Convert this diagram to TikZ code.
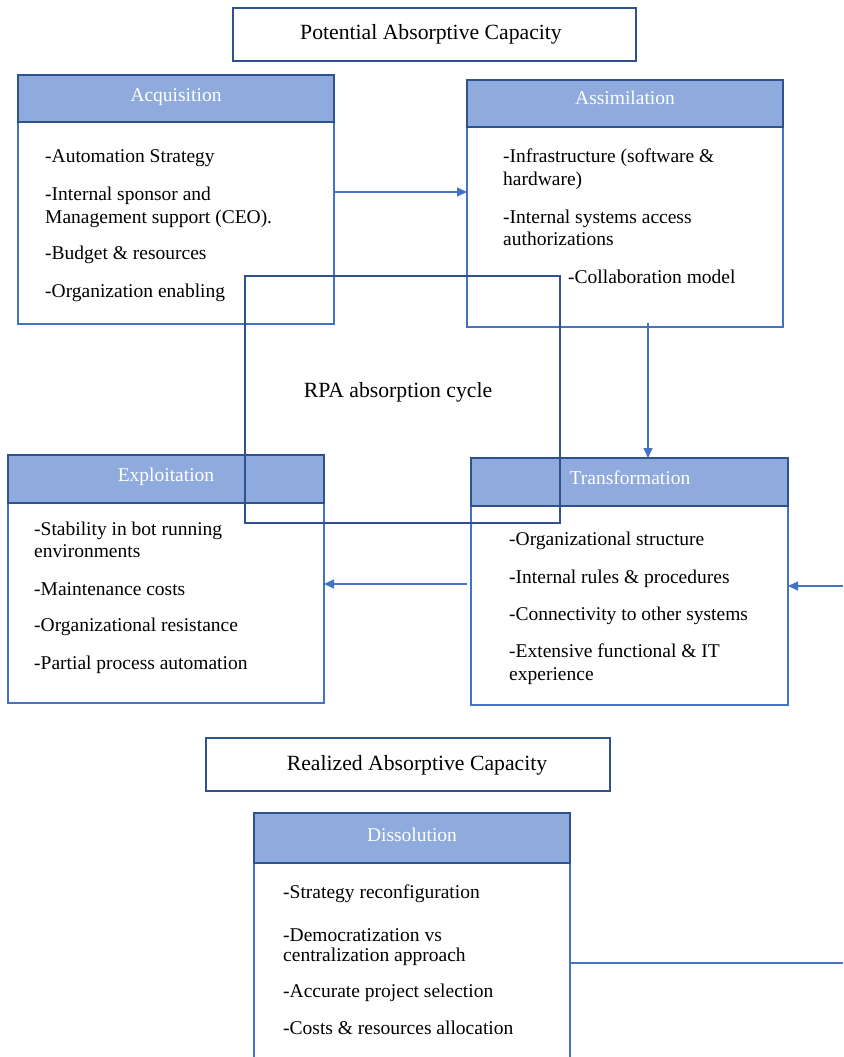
\documentclass[tikz,border=0pt]{standalone}
\usepackage{fontspec}
\setmainfont{Liberation Serif}
\usetikzlibrary{arrows.meta,calc}
\definecolor{headfill}{HTML}{8FAADC}
\definecolor{headline}{HTML}{2F528F}
\definecolor{bodyline}{HTML}{4472C4}
\definecolor{arrowblue}{HTML}{4472C4}

\begin{document}
\begin{tikzpicture}[x=1pt,y=-1pt,
  every node/.style={font=\fontsize{19.5}{23}\selectfont},
  bigtext/.style={font=\fontsize{21.7}{25}\selectfont},
  bodybox/.style={draw=bodyline, line width=1.4pt, fill=white, minimum width=316pt,
    minimum height=248pt, inner sep=0pt, outer sep=0pt, anchor=north west},
  headbox/.style={draw=headline, line width=1.8pt, fill=headfill, minimum width=316pt,
    minimum height=47pt, inner sep=0pt, outer sep=0pt, anchor=north west},
  headtext/.style={text=white, anchor=base, inner sep=0pt},
  item/.style={anchor=base west, inner sep=0pt, text=black},
  titlebox/.style={draw=headline, line width=1.1pt, minimum width=403pt,
    minimum height=53pt, anchor=north west, inner sep=0pt, outer sep=0pt},
  conn/.style={draw=arrowblue, line width=1.3pt},
  arr/.style={conn, -{Triangle[length=10pt,width=9pt]}},
]
\useasboundingbox (0,0) rectangle (843,1057);

% ---- stage titles ----
\node[titlebox] (potential) at (233,8) {};
\node[bigtext] (potentialt) at (431,34) {Potential Absorptive Capacity};
\node[titlebox, minimum width=404pt] (realized) at (206,738) {};
\node[bigtext] (realizedt) at (417,765) {Realized Absorptive Capacity};

% ---- Acquisition ----
\node[bodybox, minimum height=249pt] (acq) at (18,75) {};
\node[headbox] (acqh) at (18,75) {};
\node[headtext] (acqt) at (176,101) {Acquisition};
\node[item] (acq1) at (45,162) {-Automation Strategy};
\node[item] (acq2) at (45,200) {-Internal sponsor and};
\node[item] (acq2b) at (45,223) {Management support (CEO).};
\node[item] (acq3) at (45,259) {-Budget \& resources};
\node[item] (acq4) at (45,297) {-Organization enabling};

% ---- Assimilation ----
\node[bodybox, minimum height=247pt] (assim) at (467,80) {};
\node[headbox] (assimh) at (467,80) {};
\node[headtext] (assimt) at (625,104) {Assimilation};
\node[item] (assim1) at (503,162) {-Infrastructure (software \&};
\node[item] (assim1b) at (503,185) {hardware)};
\node[item] (assim2) at (503,223) {-Internal systems access};
\node[item] (assim2b) at (503,245) {authorizations};
\node[item] (assim3) at (568,283) {-Collaboration model};

% ---- Exploitation ----
\node[bodybox] (expl) at (8,455) {};
\node[headbox, minimum height=48pt] (explh) at (8,455) {};
\node[headtext] (explt) at (166,481) {Exploitation};
\node[item] (expl1) at (34,535) {-Stability in bot running};
\node[item] (expl1b) at (34,557) {environments};
\node[item] (expl2) at (34,595) {-Maintenance costs};
\node[item] (expl3) at (34,631) {-Organizational resistance};
\node[item] (expl4) at (34,669) {-Partial process automation};

% ---- Transformation ----
\node[bodybox, minimum width=317pt, minimum height=247pt] (trans) at (471,458) {};
\node[headbox, minimum width=317pt, minimum height=48pt] (transh) at (471,458) {};
\node[headtext] (transt) at (630,484) {Transformation};
\node[item] (trans1) at (509,545) {-Organizational structure};
\node[item] (trans2) at (509,583) {-Internal rules \& procedures};
\node[item] (trans3) at (509,620) {-Connectivity to other systems};
\node[item] (trans4) at (509,657) {-Extensive functional \& IT};
\node[item] (trans4b) at (509,680) {experience};

% ---- Dissolution ----
\node[bodybox, minimum height=262pt] (diss) at (254,813) {};
\node[headbox, minimum height=50pt] (dissh) at (254,813) {};
\node[headtext] (disst) at (412,841) {Dissolution};
\node[item] (diss1) at (283,898) {-Strategy reconfiguration};
\node[item] (diss2) at (283,941) {-Democratization vs};
\node[item] (diss2b) at (283,961) {centralization approach};
\node[item] (diss3) at (283,997) {-Accurate project selection};
\node[item] (diss4) at (283,1034) {-Costs \& resources allocation};

% ---- absorption cycle frame ----
\node[draw=headline, line width=1.5pt, minimum width=315pt, minimum height=247pt,
  anchor=north west, inner sep=0pt, outer sep=0pt] (cycle) at (245,276) {};
\node[bigtext] (rpa) at (398,392) {RPA absorption cycle};

% ---- connectors ----
\coordinate (y192) at (0,192);
\coordinate (x648) at (648,0);
\coordinate (y584) at (0,584);
\coordinate (rin) at (843,586);
\coordinate (dout) at (843,963);

\draw[arr] (acq.east |- y192) -- (assim.west |- y192);
\draw[arr] ([yshift=4pt]assim.south -| x648) -- (transh.north -| x648);
\draw[arr] ([xshift=-4pt]trans.west |- y584) -- (expl.east |- y584);
\draw[arr] (rin) -- (trans.east |- rin);
\draw[conn] (diss.east |- dout) -- (dout);
\end{tikzpicture}
\end{document}
